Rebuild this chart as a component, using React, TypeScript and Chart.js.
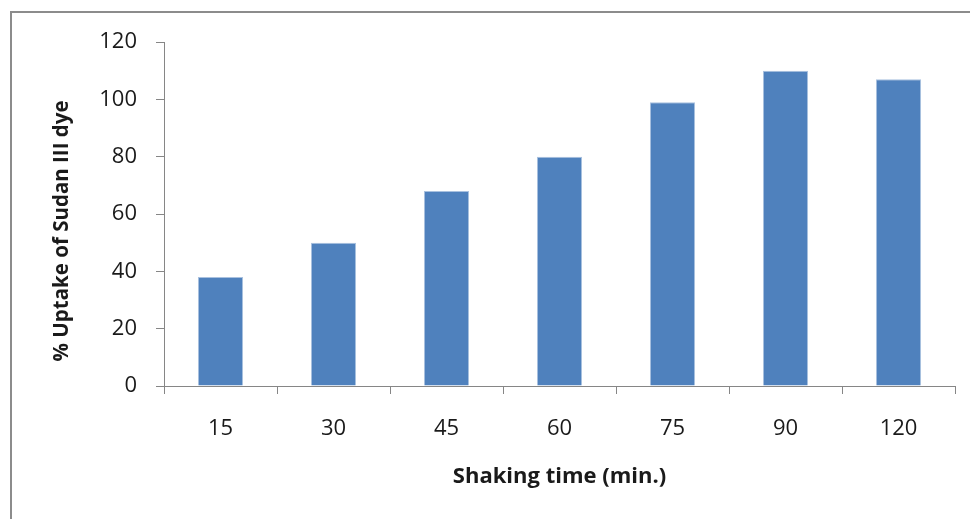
import React, { useEffect, useRef } from "react";
import { Chart, registerables } from "chart.js";

Chart.register(...registerables);

const categories = ["15", "30", "45", "60", "75", "90", "120"];
const uptake = [38, 50, 68, 80, 99, 110, 107];
const yTitle = "% Uptake of Sudan III dye";
const xTitle = "Shaking time (min.)";

const FONT = "'Open Sans', 'Liberation Sans', sans-serif";

const framePlugin = {
  id: "frame",
  beforeDraw(chart: any) {
    const ctx = chart.ctx;
    ctx.save();
    ctx.fillStyle = "#ffffff";
    ctx.fillRect(0, 0, chart.width, chart.height);
    ctx.strokeStyle = "#8c8c8c";
    ctx.lineWidth = 2;
    ctx.beginPath();
    ctx.moveTo(11, chart.height + 5);
    ctx.lineTo(11, 12);
    ctx.lineTo(chart.width + 5, 12);
    ctx.stroke();
    ctx.restore();
  },
  afterDraw(chart: any) {
    const ctx = chart.ctx;
    ctx.save();
    ctx.translate(62, 231);
    ctx.rotate(-Math.PI / 2);
    ctx.font = `bold 20.5px ${FONT}`;
    ctx.fillStyle = "#1a1a1a";
    ctx.textAlign = "center";
    ctx.textBaseline = "middle";
    ctx.fillText(yTitle, 0, 0);
    ctx.restore();
  },
};

export default function App() {
  const ref = useRef<HTMLCanvasElement | null>(null);
  useEffect(() => {
    document.body.style.margin = "0";
    const chart = new Chart(ref.current!, {
      type: "bar",
      data: {
        labels: categories,
        datasets: [
          {
            data: uptake,
            backgroundColor: "#4f81bd",
            borderColor: "#a9c1df",
            borderWidth: 1,
            barPercentage: 0.4,
            categoryPercentage: 1,
          },
        ],
      },
      plugins: [framePlugin],
      options: {
        animation: false,
        responsive: false,
        layout: { padding: { top: 42, right: 15, left: 0, bottom: 0 } },
        plugins: { legend: { display: false }, tooltip: { enabled: false } },
        scales: {
          x: {
            afterFit: (s: any) => {
              s.height = 133;
            },
            grid: {
              drawOnChartArea: false,
              drawTicks: true,
              tickLength: 8,
              color: "#868686",
              offset: true,
            },
            border: { color: "#868686", width: 1 },
            ticks: {
              color: "#1a1a1a",
              padding: 22,
              font: { family: FONT, size: 22 },
              maxRotation: 0,
            },
            title: {
              display: true,
              text: xTitle,
              color: "#1a1a1a",
              font: { family: FONT, size: 22, weight: "bold" },
              padding: { top: 0, bottom: 29 },
            },
          },
          y: {
            min: 0,
            max: 120,
            afterFit: (s: any) => {
              s.width = 164;
            },
            grid: {
              drawOnChartArea: false,
              drawTicks: true,
              tickLength: 8,
              color: "#868686",
            },
            border: { color: "#868686", width: 1 },
            ticks: {
              stepSize: 20,
              color: "#1a1a1a",
              padding: 19,
              font: { family: FONT, size: 22 },
            },
            title: { display: false },
          },
        },
      },
    });
    return () => chart.destroy();
  }, []);
  return (
    <div style={{ position: "absolute", left: 0, top: 0, width: 970, height: 519 }}>
      <canvas ref={ref} width={970} height={519} style={{ display: "block" }} />
    </div>
  );
}
